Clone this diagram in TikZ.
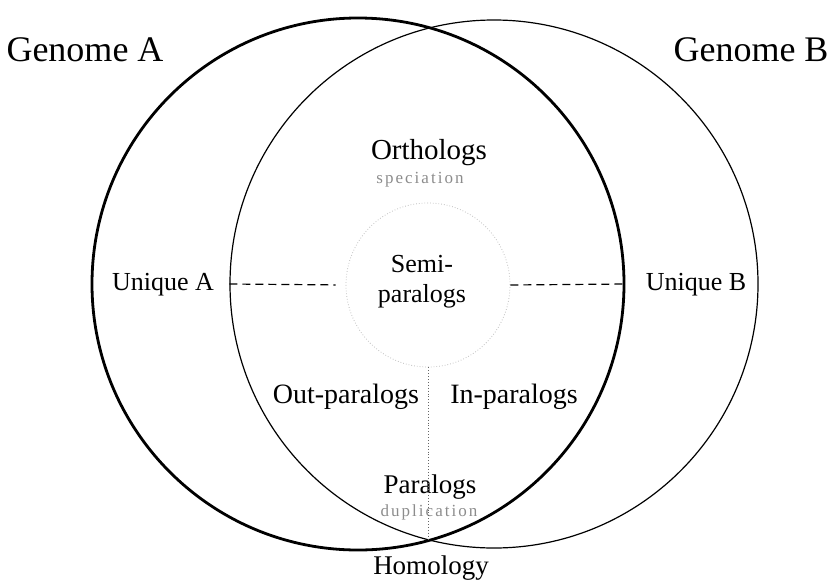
\documentclass[tikz,border=0pt]{standalone}
\usepackage{fontspec}
\setmainfont{Liberation Serif}
\begin{document}
\begin{tikzpicture}[x=1pt,y=-1pt,
  big/.style={anchor=base, inner sep=0pt, font=\fontsize{36}{40}\selectfont},
  lbl/.style={anchor=base, inner sep=0pt, font=\fontsize{27}{30}\selectfont},
  sub/.style={anchor=base, inner sep=0pt, text=black!45, font=\fontsize{17}{19}\selectfont\addfontfeatures{LetterSpace=12}},
  genome/.style={circle, draw, inner sep=0pt},
  dashline/.style={dashed, dash pattern=on 8pt off 5pt, line width=1.2pt},
  dotline/.style={dotted, line width=0.9pt, black!60}]
\useasboundingbox (0,0) rectangle (837,581);
% genomes
\node[genome, line width=2.8pt, minimum size=532pt] (A) at (358,284) {};
\node[genome, line width=1.2pt, minimum size=528pt] (B) at (494,284) {};
% semi-paralogs circle
\node[circle, draw=black!25, dotted, line width=0.8pt, minimum size=164pt, inner sep=0pt] (S) at (428,285) {};
\coordinate (bot) at (428,540);
% labels
\node[big] (ga) at (85,61) {Genome A};
\node[big] (gb) at (751,61) {Genome B};
\node[lbl, font=\fontsize{26}{30}\selectfont] (ua) at (163,290) {Unique A};
\node[lbl, font=\fontsize{26}{30}\selectfont] (ub) at (696,290) {Unique B};
\node[lbl, font=\fontsize{29}{32}\selectfont] (orth) at (429,159) {Orthologs};
\node[sub] (spec) at (420,183) {speciation};
\node[font=\fontsize{26}{30}\selectfont, align=center, inner sep=0pt] (semi) at (422,282) {Semi-\\paralogs};
\node[lbl, font=\fontsize{28}{30}\selectfont] (outp) at (346,403) {Out-paralogs};
\node[lbl, font=\fontsize{28}{30}\selectfont] (inp) at (514,403) {In-paralogs};
\node[lbl] (par) at (430,493) {Paralogs};
\node[sub] (dup) at (429,516) {duplication};
\node[lbl] (hom) at (431,574) {Homology};
% connectors
\draw[dashline, shorten >=10pt] (B.west) -- (S.west);
\draw[dashline] (S.east) -- (A.east);
\draw[dotline] (S.south) -- (bot);
\end{tikzpicture}
\end{document}
